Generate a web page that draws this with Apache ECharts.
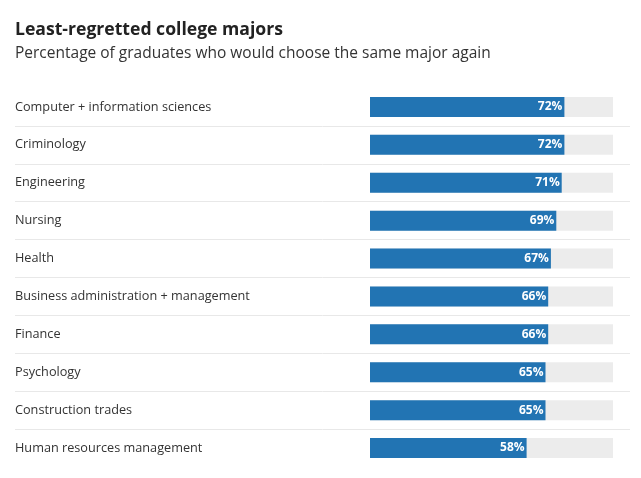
<!DOCTYPE html>
<html><head><meta charset="utf-8">
<script src="https://cdn.jsdelivr.net/npm/echarts@6/dist/echarts.min.js"></script>
<style>html,body{margin:0;padding:0;background:#fff}#c{width:641px;height:478px}</style>
</head><body><div id="c"></div>
<script>
const categories = ["Computer + information sciences","Criminology","Engineering","Nursing","Health","Business administration + management","Finance","Psychology","Construction trades","Human resources management"];
const values = [72,72,71,69,67,66,66,65,65,58];
const titleText = "Least-regretted college majors";
const subtitleText = "Percentage of graduates who would choose the same major again";

const chart = echarts.init(document.getElementById('c'));
const gridTop = 88, rowH = 37.9;
chart.setOption({
  animation:false,
  backgroundColor:'#fff',
  title:{text:titleText, subtext:subtitleText, left:10, top:16, itemGap:7,
    textStyle:{fontFamily:'Open Sans', fontSize:17.6, fontWeight:'bold', color:'#222'},
    subtextStyle:{fontFamily:'Open Sans', fontSize:15.5, color:'#333'}},
  grid:[
    {left:370, right:28, top:gridTop, height:rowH*categories.length},
    {left:15, right:11, top:gridTop, height:rowH*categories.length}
  ],
  xAxis:[
    {gridIndex:0, type:'value', min:0, max:90, show:false},
    {gridIndex:1, type:'value', min:0, max:1, show:false}
  ],
  yAxis:[
    {gridIndex:0, type:'category', data:categories, inverse:true,
     axisLine:{show:false}, axisTick:{show:false}, splitLine:{show:false},
     axisLabel:{align:'left', margin:355, fontFamily:'Open Sans', fontSize:12.7, color:'#333'}},
    {gridIndex:1, type:'category', data:categories, inverse:true,
     axisLine:{show:false}, axisTick:{show:false}, axisLabel:{show:false},
     splitLine:{show:true, showMinLine:false, showMaxLine:false, lineStyle:{color:'#e8e8e8', width:1}}}
  ],
  series:[{
    type:'bar', xAxisIndex:0, yAxisIndex:0, data:values, barWidth:20,
    itemStyle:{color:'#2274b3'},
    showBackground:true, backgroundStyle:{color:'#ececec'},
    label:{show:true, position:'insideRight', distance:2, formatter:'{c}%',
      color:'#fff', fontFamily:'Open Sans', fontWeight:'bold', fontSize:12}
  }]
});
</script></body></html>
